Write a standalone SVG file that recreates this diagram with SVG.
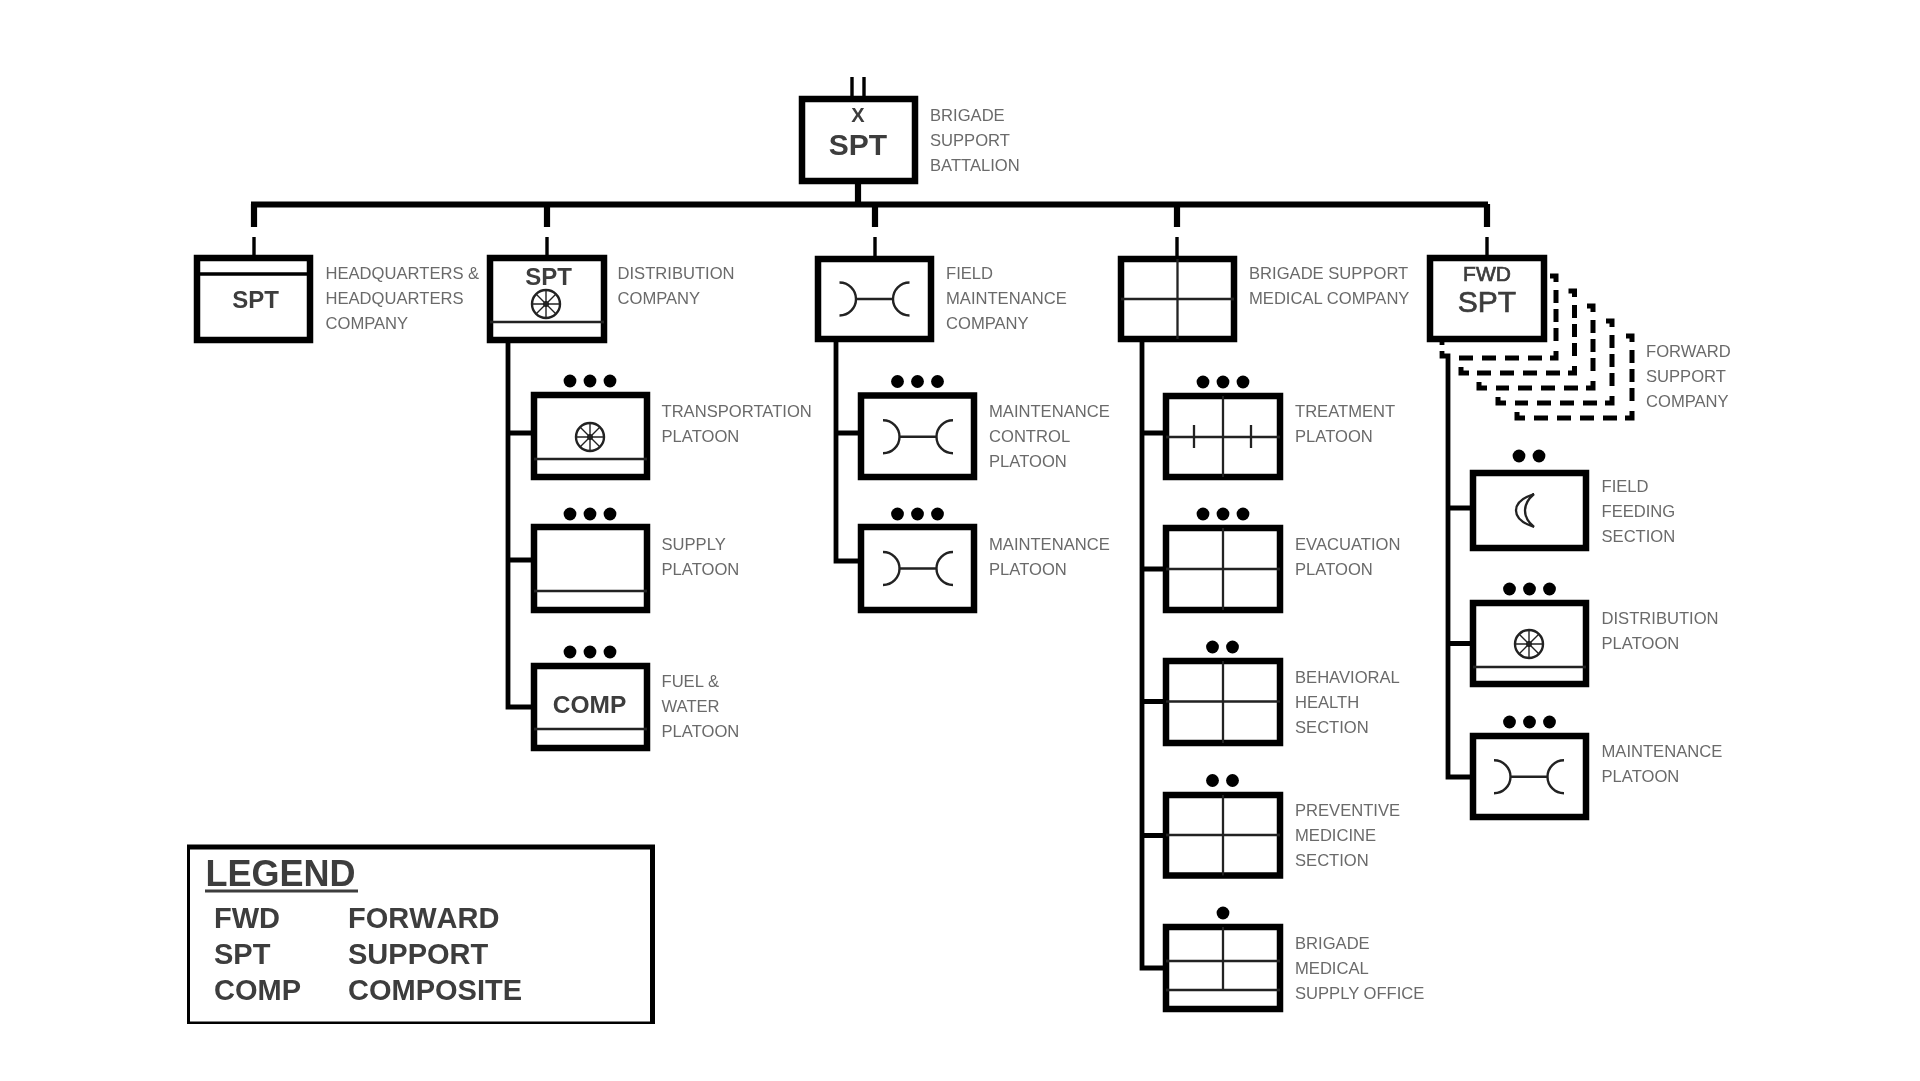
<svg xmlns="http://www.w3.org/2000/svg" width="1920" height="1081" viewBox="0 0 1920 1081">
<style>
text{font-family:"Liberation Sans",Arial,sans-serif}
.l{font-size:16.6px;fill:#6a6a6a}
.b{font-weight:bold;fill:#3c3c3c;text-anchor:middle}
.n{font-weight:normal;stroke:#3c3c3c;stroke-width:.7}
.lg{font-weight:bold;fill:#3c3c3c;font-size:29px;font-kerning:none}
.box{fill:#fff;stroke:#000;stroke-width:6.500}
.in{fill:none;stroke:#222;stroke-width:2.300}
.d{fill:#000}
.c{fill:none;stroke:#000;stroke-width:4.800}
.t{fill:none;stroke:#000;stroke-width:6.200}
.th{fill:none;stroke:#000;stroke-width:3.400}
.hk{fill:none;stroke:#000;stroke-width:5}
.dv{fill:none;stroke:#000;stroke-width:5;stroke-dasharray:13 6}
.dh{fill:none;stroke:#000;stroke-width:5;stroke-dasharray:14 9}
</style>
<defs>
<g id="wheel" fill="none" stroke="#222"><circle r="14" stroke-width="2.400"/><path d="M-14 0H14M0-14V14M-10-10L10 10M-10 10L10-10" stroke-width="1.400"/><circle r="2.600" fill="#222"/></g>
<path id="maint" fill="none" stroke="#222" stroke-width="2.400" d="M-35-16.500A16.500 16.500 0 0 1-35 16.500M35-16.500A16.500 16.500 0 0 0 35 16.500M-18.500 0H18.500"/>
<g id="d3" class="d"><circle cx="-20" r="6.400"/><circle r="6.400"/><circle cx="20" r="6.400"/></g>
<g id="d2" class="d"><circle cx="-10" r="6.400"/><circle cx="10" r="6.400"/></g>
<filter id="soft" x="0" y="0" width="100%" height="100%"><feGaussianBlur stdDeviation="0.6"/></filter>
</defs>
<rect width="1920" height="1081" fill="#fff"/>
<g filter="url(#soft)">
<g id="connectors">
<path class="th" d="M852 77V96M864 77V96"/>
<path class="t" d="M858 184V204.500M251 204.500H1488"/>
<path class="t" d="M254 204V227M547 204V227M875 204V227M1177 204V227M1487 204V227"/>
<path class="th" d="M254 237V256M547 237V256M875 237V256M1177 237V256M1487 237V256"/>
<path class="c" d="M508 343V707H531M508 433H531M508 560H531"/>
<path class="c" d="M836 342V561H858M836 433H858"/>
<path class="c" d="M1142 342V968H1164M1142 433H1164M1142 569H1164M1142 701.500H1164M1142 835.500H1164"/>
<path class="c" d="M1442 351V356H1448V777H1470M1448 508H1470M1448 643.500H1470M1442 341V345"/>
</g>
<g id="fwd-stack">
<path class="hk" d="M1550 276H1556V282M1568.500 291H1574.500V297M1587 306H1593V312M1606 321H1612V327M1626 336H1632V342"/>
<path class="hk" d="M1556 351V358H1550M1574.500 366V373H1568M1593 381V388H1586M1612 396V403H1605M1632 411V418H1625"/>
<path class="hk" d="M1461 367V373H1469M1479 382V388H1487M1498 397V403H1506M1517 412V418H1525"/>
<path class="dv" d="M1556 290V346"/><path class="dv" d="M1574.500 305V361"/><path class="dv" d="M1593 320V376"/><path class="dv" d="M1612 335V391"/><path class="dv" d="M1632 350V406"/>
<path class="dh" d="M1542 358H1458"/><path class="dh" d="M1560 373H1476"/><path class="dh" d="M1578 388H1496"/><path class="dh" d="M1597 403H1515"/><path class="dh" d="M1617 418H1533"/>
</g>
<g id="battalion"><rect class="box" x="802" y="99" width="113" height="82"/>
<text class="b" x="858" y="121.500" font-size="20">X</text><text class="b" x="858" y="155" font-size="30">SPT</text>
<text class="l" x="930" y="121">BRIGADE</text><text class="l" x="930" y="146">SUPPORT</text><text class="l" x="930" y="171">BATTALION</text></g>
<g id="hhc"><rect class="box" x="197" y="258" width="113" height="82"/><path class="th" d="M197 274H310"/>
<text class="b" x="255.500" y="308" font-size="24">SPT</text>
<text class="l" x="325.500" y="279">HEADQUARTERS &amp;</text><text class="l" x="325.500" y="304">HEADQUARTERS</text><text class="l" x="325.500" y="329">COMPANY</text></g>
<g id="dist-co"><rect class="box" x="490" y="258" width="114" height="82"/><path class="in" d="M490 322H604"/>
<text class="b" x="548.500" y="285" font-size="24">SPT</text><use href="#wheel" x="546" y="304"/>
<text class="l" x="617.500" y="279">DISTRIBUTION</text><text class="l" x="617.500" y="304">COMPANY</text></g>
<g id="field-co"><rect class="box" x="818" y="259" width="113" height="80"/><use href="#maint" x="874.500" y="299"/>
<text class="l" x="946" y="279">FIELD</text><text class="l" x="946" y="304">MAINTENANCE</text><text class="l" x="946" y="329">COMPANY</text></g>
<g id="med-co"><rect class="box" x="1121" y="259" width="113" height="80"/><path class="in" d="M1177.500 259V339M1121 299H1234"/>
<text class="l" x="1249" y="279">BRIGADE SUPPORT</text><text class="l" x="1249" y="304">MEDICAL COMPANY</text></g>
<g id="fwd-co"><rect class="box" x="1430" y="258" width="114" height="81"/>
<text class="b n" x="1487" y="280.500" font-size="21">FWD</text><text class="b n" x="1487" y="312" font-size="30">SPT</text>
<text class="l" x="1646" y="356.500">FORWARD</text><text class="l" x="1646" y="381.500">SUPPORT</text><text class="l" x="1646" y="406.500">COMPANY</text></g>

<g id="transport-plt"><use href="#d3" x="590" y="381"/><rect class="box" x="534" y="395" width="113" height="82"/><path class="in" d="M534 459H647"/><use href="#wheel" x="590" y="437"/>
<text class="l" x="661.500" y="416.500">TRANSPORTATION</text><text class="l" x="661.500" y="441.500">PLATOON</text></g>
<g id="supply-plt"><use href="#d3" x="590" y="514"/><rect class="box" x="534" y="527" width="113" height="83"/><path class="in" d="M534 591H647"/>
<text class="l" x="661.500" y="549.500">SUPPLY</text><text class="l" x="661.500" y="574.500">PLATOON</text></g>
<g id="fuel-plt"><use href="#d3" x="590" y="652"/><rect class="box" x="534" y="666" width="113" height="82"/><path class="in" d="M534 729H647"/>
<text class="b" x="589.500" y="713" font-size="24.500">COMP</text>
<text class="l" x="661.500" y="687">FUEL &amp;</text><text class="l" x="661.500" y="712">WATER</text><text class="l" x="661.500" y="737">PLATOON</text></g>

<g id="maint-control-plt"><use href="#d3" x="917.500" y="381.500"/><rect class="box" x="861" y="395.500" width="113" height="81.500"/><use href="#maint" x="918" y="436.700"/>
<text class="l" x="989" y="416.500">MAINTENANCE</text><text class="l" x="989" y="441.500">CONTROL</text><text class="l" x="989" y="466.500">PLATOON</text></g>
<g id="maint-plt"><use href="#d3" x="917.500" y="514"/><rect class="box" x="861" y="527" width="113" height="83"/><use href="#maint" x="918" y="568.500"/>
<text class="l" x="989" y="549.500">MAINTENANCE</text><text class="l" x="989" y="574.500">PLATOON</text></g>

<g id="treatment-plt"><use href="#d3" x="1223" y="382"/><rect class="box" x="1166" y="396" width="114" height="81"/><path class="in" d="M1223 396V477M1166 437H1280M1194 425V448M1251 425V448"/>
<text class="l" x="1295" y="416.500">TREATMENT</text><text class="l" x="1295" y="441.500">PLATOON</text></g>
<g id="evac-plt"><use href="#d3" x="1223" y="514"/><rect class="box" x="1166" y="528" width="114" height="82"/><path class="in" d="M1223 528V610M1166 569H1280"/>
<text class="l" x="1295" y="550">EVACUATION</text><text class="l" x="1295" y="575">PLATOON</text></g>
<g id="behavioral-sec"><use href="#d2" x="1222.500" y="647"/><rect class="box" x="1166" y="661" width="114" height="82"/><path class="in" d="M1223 661V743M1166 701.500H1280"/>
<text class="l" x="1295" y="682.500">BEHAVIORAL</text><text class="l" x="1295" y="707.500">HEALTH</text><text class="l" x="1295" y="732.500">SECTION</text></g>
<g id="preventive-sec"><use href="#d2" x="1222.500" y="780.500"/><rect class="box" x="1166" y="795" width="114" height="80.500"/><path class="in" d="M1223 795V875.500M1166 835H1280"/>
<text class="l" x="1295" y="815.500">PREVENTIVE</text><text class="l" x="1295" y="840.500">MEDICINE</text><text class="l" x="1295" y="865.500">SECTION</text></g>
<g id="med-supply-office"><circle class="d" cx="1223" cy="913" r="6.400"/><rect class="box" x="1166" y="927" width="114" height="82"/><path class="in" d="M1223 927V990M1166 961H1280M1166 990H1280"/>
<text class="l" x="1295" y="949">BRIGADE</text><text class="l" x="1295" y="974">MEDICAL</text><text class="l" x="1295" y="998.500">SUPPLY OFFICE</text></g>

<g id="feeding-sec"><use href="#d2" x="1529" y="456"/><rect class="box" x="1473" y="473" width="113" height="75"/><path class="in" d="M1534 494C1510 502 1510 519 1534 527C1522 517 1522 504 1534 494Z"/>
<text class="l" x="1601.500" y="491.500">FIELD</text><text class="l" x="1601.500" y="516.500">FEEDING</text><text class="l" x="1601.500" y="541.500">SECTION</text></g>
<g id="fwd-dist-plt"><use href="#d3" x="1529.500" y="589"/><rect class="box" x="1473" y="603" width="113" height="81"/><path class="in" d="M1473 667H1586"/><use href="#wheel" x="1529" y="644"/>
<text class="l" x="1601.500" y="623.500">DISTRIBUTION</text><text class="l" x="1601.500" y="649">PLATOON</text></g>
<g id="fwd-maint-plt"><use href="#d3" x="1529.500" y="722"/><rect class="box" x="1473" y="736" width="113" height="81"/><use href="#maint" x="1529" y="776.700"/>
<text class="l" x="1601.500" y="757">MAINTENANCE</text><text class="l" x="1601.500" y="782">PLATOON</text></g>

<g id="legend"><rect x="187.500" y="847" width="465" height="177" fill="#fff" stroke="#000" stroke-width="5"/>
<text x="205.500" y="886" font-size="36" font-weight="bold" fill="#3c3c3c">LEGEND</text><path d="M205 891H358" stroke="#3c3c3c" stroke-width="3"/>
<text class="lg" x="214" y="927.500">FWD</text><text class="lg" x="348" y="927.500">FORWARD</text>
<text class="lg" x="214" y="963.500">SPT</text><text class="lg" x="348" y="963.500">SUPPORT</text>
<text class="lg" x="214" y="999.500">COMP</text><text class="lg" x="348" y="999.500">COMPOSITE</text></g>
</g>
</svg>
